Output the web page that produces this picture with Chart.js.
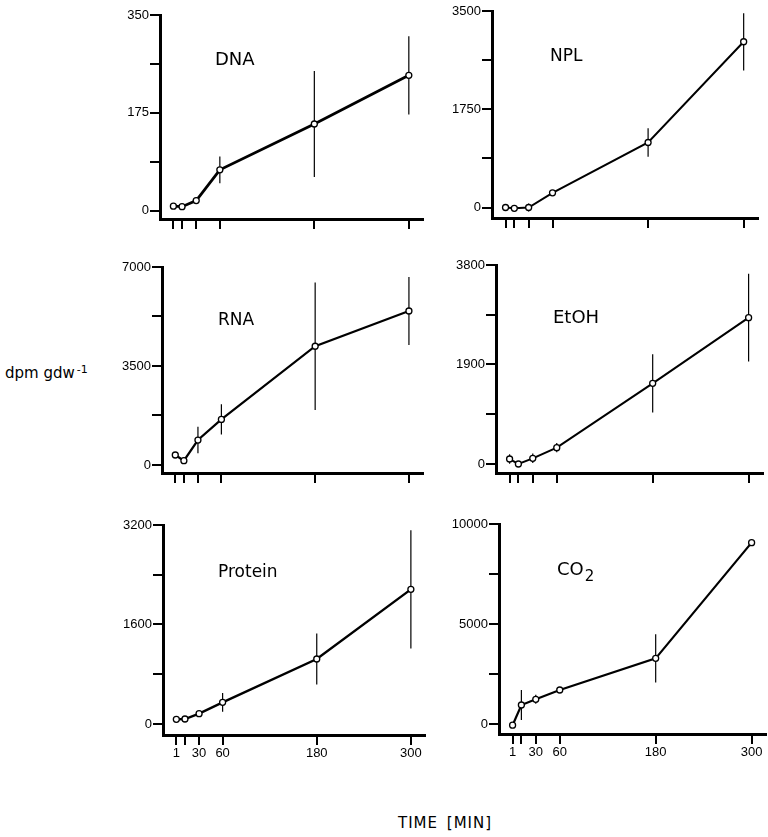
<!DOCTYPE html>
<html><head><meta charset="utf-8">
<script src="https://cdn.jsdelivr.net/npm/chart.js@4.4.1/dist/chart.umd.min.js"></script>
<style>
html,body{margin:0;padding:0;background:#fff;}
body{width:768px;height:837px;position:relative;overflow:hidden;font-family:"DejaVu Sans",sans-serif;color:#000;}
.box{position:absolute;}
#ylab{position:absolute;left:5px;top:362px;font-size:15px;line-height:15px;white-space:nowrap;}
#ylab sup{font-size:11px;vertical-align:5px;margin-left:2px;}
#xlab{position:absolute;left:398px;top:816px;font-size:15px;line-height:15px;letter-spacing:1px;word-spacing:3px;white-space:nowrap;}
</style></head><body>
<div id="ylab">dpm gdw<sup>-1</sup></div>
<div id="xlab">TIME [MIN]</div>
<script>
// ---- data ----
const times = [1, 12, 30, 60, 180, 300];
const xTickValues = [1, 12, 30, 60, 180, 300];
const xTickLabels = ['1', '', '30', '60', '180', '300'];
const panelNames = ['DNA', 'NPL', 'RNA', 'EtOH', 'Protein', 'CO2'];
const dnaValues = [8, 7, 18, 73, 155, 242];
const dnaErrors = [0, 0, 6, 24, 95, 70];
const nplValues = [0, -15, 0, 261, 1158, 2952];
const nplErrors = [0, 0, 70, 0, 255, 510];
const rnaValues = [353, 153, 882, 1611, 4199, 5445];
const rnaErrors = [0, 100, 470, 535, 2252, 1200];
const etohValues = [95, 0, 108, 312, 1540, 2794];
const etohErrors = [90, 0, 90, 90, 557, 837];
const proteinValues = [75, 80, 166, 348, 1045, 2165];
const proteinErrors = [0, 0, 0, 150, 410, 951];
const co2Values = [-60, 950, 1233, 1700, 3283, 9067];
const co2Errors = [0, 750, 225, 0, 1208, 100];
const yMaxValues = [350, 3500, 7000, 3800, 3200, 10000];
const yMinValues = [-15, -187, -283, -172, -177, -500];
const xMin = -16, xMax = 318;

const seriesValues = [dnaValues, nplValues, rnaValues, etohValues, proteinValues, co2Values];
const seriesErrors = [dnaErrors, nplErrors, rnaErrors, etohErrors, proteinErrors, co2Errors];

// ---- layout (page pixels of each plot area) ----
const rects = [
  {left:160, top:15,  right:423, bottom:219},
  {left:492, top:11,  right:758, bottom:218},
  {left:162, top:267, right:423, bottom:473},
  {left:496, top:265, right:763, bottom:473},
  {left:163, top:525, right:425, bottom:735},
  {left:499, top:524, right:766, bottom:734}
];
const labelPos = [
  {dx:55, dy:50, size:18},
  {dx:58, dy:50, size:17},
  {dx:56, dy:58, size:17},
  {dx:57, dy:58, size:18},
  {dx:55, dy:52, size:17},
  {dx:58, dy:51, size:18}
];
const lineWidths = [2.8, 2, 2.2, 2, 2.4, 2.2];
const Y_W = 52, X_H = 34, PAD_T = 10, PAD_R = 8;
const tickFont = {family:'"Liberation Sans", Arial, sans-serif', size:13};

const errorBars = {
  id:'errorBars',
  beforeDatasetsDraw(chart){
    const i = chart.options.plugins.errorBars.index;
    const vals = seriesValues[i], errs = seriesErrors[i];
    const xs = chart.scales.x, ys = chart.scales.y, ctx = chart.ctx;
    ctx.save();
    ctx.strokeStyle = '#000'; ctx.lineWidth = 1.2;
    times.forEach((t,k)=>{
      if(!errs[k]) return;
      const px = xs.getPixelForValue(t);
      ctx.beginPath();
      ctx.moveTo(px, ys.getPixelForValue(vals[k] + errs[k]));
      ctx.lineTo(px, ys.getPixelForValue(vals[k] - errs[k]));
      ctx.stroke();
    });
    ctx.restore();
  }
};
const panelLabel = {
  id:'panelLabel',
  afterDraw(chart){
    const i = chart.options.plugins.errorBars.index;
    const lp = labelPos[i], ca = chart.chartArea, ctx = chart.ctx;
    ctx.save();
    ctx.fillStyle = '#000';
    ctx.textBaseline = 'alphabetic';
    ctx.font = lp.size + 'px "DejaVu Sans", sans-serif';
    const x = ca.left + lp.dx, y = ca.top + lp.dy;
    const name = panelNames[i];
    if (name === 'CO2') {
      ctx.fillText('CO', x, y);
      const w = ctx.measureText('CO').width;
      ctx.font = '15px "DejaVu Sans", sans-serif';
      ctx.fillText('2', x + w + 1, y + 6);
    } else {
      ctx.fillText(name, x, y);
    }
    ctx.restore();
  }
};

rects.forEach((r, i) => {
  const w = Y_W + (r.right - r.left) + PAD_R;
  const h = PAD_T + (r.bottom - r.top) + X_H;
  const div = document.createElement('div');
  div.className = 'box';
  div.style.left = (r.left - Y_W) + 'px';
  div.style.top = (r.top - PAD_T) + 'px';
  div.style.width = w + 'px';
  div.style.height = h + 'px';
  const c = document.createElement('canvas');
  c.width = w; c.height = h;
  c.style.width = w + 'px'; c.style.height = h + 'px';
  div.appendChild(c);
  document.body.appendChild(div);
  const bottomRow = i >= 4;
  const yMax = yMaxValues[i];
  const yTicks = [0, yMax/4, yMax/2, 3*yMax/4, yMax];
  new Chart(c, {
    type:'line',
    data:{datasets:[{
      data: times.map((t,k)=>({x:t, y:seriesValues[i][k]})),
      borderColor:'#000', borderWidth:lineWidths[i],
      pointRadius:3, pointBackgroundColor:'#fff', pointBorderColor:'#000', pointBorderWidth:1.3,
      tension:0, fill:false
    }]},
    options:{
      animation:false, responsive:false, events:[],
      layout:{padding:{top:PAD_T, right:PAD_R, left:0, bottom:0}},
      plugins:{legend:{display:false}, tooltip:{enabled:false}, errorBars:{index:i}},
      scales:{
        x:{
          type:'linear', min:xMin, max:xMax,
          afterBuildTicks:s=>{ s.ticks = xTickValues.map(v=>({value:v})); },
          afterFit:s=>{ s.height = X_H; },
          grid:{display:true, drawOnChartArea:false, drawTicks:true, tickLength:10, lineWidth:2, color:'#000'},
          border:{display:true, width:3, color:'#000'},
          ticks:{display:bottomRow, autoSkip:false, maxRotation:0, padding:1, color:'#000', font:tickFont,
            callback:v=>{ const k = xTickValues.indexOf(v); return k>=0 ? xTickLabels[k] : ''; }}
        },
        y:{
          type:'linear', min:yMinValues[i], max:yMax,
          afterBuildTicks:s=>{ s.ticks = yTicks.map(v=>({value:v})); },
          afterFit:s=>{ s.width = Y_W; },
          grid:{display:true, drawOnChartArea:false, drawTicks:true, tickLength:10, lineWidth:2, color:'#000'},
          border:{display:true, width:3, color:'#000'},
          ticks:{autoSkip:false, padding:1, color:'#000', font:tickFont,
            callback:v=>{ return (v===0 || v===yMax/2 || v===yMax) ? String(v) : ''; }}
        }
      }
    },
    plugins:[errorBars, panelLabel]
  });
});
</script>
</body></html>
